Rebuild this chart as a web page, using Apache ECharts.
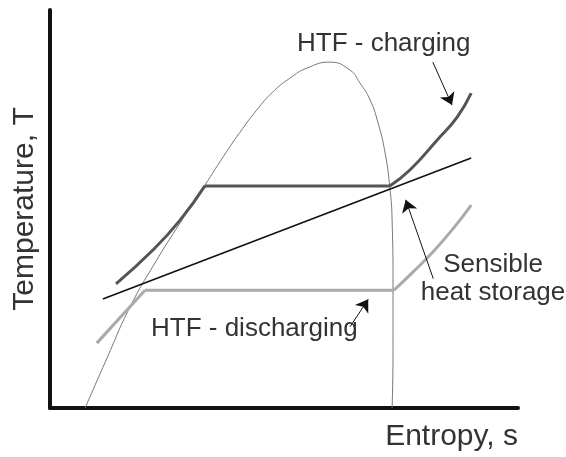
<!DOCTYPE html>
<html>
<head>
<meta charset="utf-8">
<script src="https://cdn.jsdelivr.net/npm/echarts@6/dist/echarts.min.js"></script>
<style>
  html, body { margin: 0; padding: 0; background: #fff; }
  #main { width: 566px; height: 457px; }
</style>
</head>
<body>
<div id="main"></div>
<script>
// T-s diagram, arbitrary units (0-100 on both axes)
var dome = [[7.5, 0], [12.2, 12.6], [17.1, 25.4], [22.4, 36.4], [27.8, 46.5], [33.1, 56.0],
  [37.0, 63.1], [40.6, 69.3], [44.2, 74.9], [47.6, 79.4], [51.3, 82.9], [54.9, 85.4],
  [59.8, 86.9], [64.1, 84.9], [66.2, 81.7], [68.4, 77.4], [70.1, 71.6],
  [71.6, 64.1], [72.6, 55.5], [73.1, 47.2], [73.3, 29.6], [73.3, 14.6], [73.1, 0]]
var chargeRise = [[14.1, 31.2], [22.0, 39.7], [27.8, 47.2], [33.1, 55.8]]
var chargeFlat = [[33.1, 55.8], [72.6, 55.8]]
var chargeHigh = [[72.6, 55.8], [76.9, 59.8], [82.7, 67.3], [87.0, 73.1], [90.0, 79.1]]
var dischargeRise = [[10.0, 16.3], [20.3, 29.6]]
var dischargeFlat = [[20.3, 29.6], [73.5, 29.6]]
var dischargeHigh = [[73.5, 29.6], [77.6, 34.2], [81.8, 39.2], [86.1, 45.0], [90.0, 51.0]]
var storageLine = [[11.3, 27.4], [90.0, 62.8]]
// arrows: [from, to]
var arrows = [
  [[81.8, 86.9], [85.9, 76.1]],
  [[81.9, 32.5], [76.0, 52.3]],
  [[64.1, 20.4], [68.0, 27.3]]
]

var FONT = '"Liberation Sans", Arial, sans-serif'
var TXT = '#333'

function curve(data, color, width, smooth) {
  return {
    type: 'line',
    data: data,
    smooth: smooth,
    symbol: 'none', //no point circles
    silent: true,
    lineStyle: { color: color, width: width }
  }
}

var myChart = echarts.init(document.getElementById('main'))

var option = {
  animation: false,
  grid: { left: 50, right: 48, top: 10, bottom: 49 },
  xAxis: {
    type: 'value',
    min: 0,
    max: 100,
    name: 'Entropy, s',
    nameLocation: 'end',
    nameGap: 0,
    nameTextStyle: {
      fontFamily: FONT, fontSize: 30, color: TXT,
      align: 'right', verticalAlign: 'top', padding: [14, 0, 0, 0]
    },
    axisLine: { lineStyle: { color: '#111', width: 4 } },
    axisTick: { show: false },
    axisLabel: { show: false },
    splitLine: { show: false }
  },
  yAxis: {
    type: 'value',
    min: 0,
    max: 100,
    name: 'Temperature, T',
    nameLocation: 'middle',
    nameRotate: 90,
    nameGap: 10,
    nameTextStyle: { fontFamily: FONT, fontSize: 30, color: TXT },
    axisLine: { show: true, lineStyle: { color: '#111', width: 4 } },
    axisTick: { show: false },
    axisLabel: { show: false },
    splitLine: { show: false }
  },
  graphic: [
    { type: 'text', left: 297, top: 31, style: { text: 'HTF - charging', font: '26px ' + FONT, fill: TXT } },
    { type: 'text', left: 151, top: 316, style: { text: 'HTF - discharging', font: '26px ' + FONT, fill: TXT } },
    { type: 'text', x: 493, y: 251, style: { text: 'Sensible\nheat storage', font: '26px ' + FONT, fill: TXT, align: 'center', verticalAlign: 'top', lineHeight: 28 } }
  ],
  series: [
    curve(dome, '#777', 1, 0.5),
    curve(dischargeRise, '#aaa', 3, false),
    curve(dischargeFlat, '#aaa', 3, false),
    curve(dischargeHigh, '#aaa', 3, 0.5),
    curve(storageLine, '#111', 1.6, false),
    curve(chargeRise, '#555', 3, 0.5),
    curve(chargeFlat, '#555', 3, false),
    curve(chargeHigh, '#555', 3, 0.5),
    {
      type: 'line',
      data: [],
      silent: true,
      markLine: {
        silent: true,
        symbol: ['none', 'arrow'],
        symbolSize: 12,
        label: { show: false },
        lineStyle: { color: '#111', width: 1, type: 'solid' },
        data: arrows.map(function (a) {
          return [{ coord: a[0] }, { coord: a[1] }]
        })
      }
    }
  ]
}

myChart.setOption(option)
</script>
</body>
</html>
